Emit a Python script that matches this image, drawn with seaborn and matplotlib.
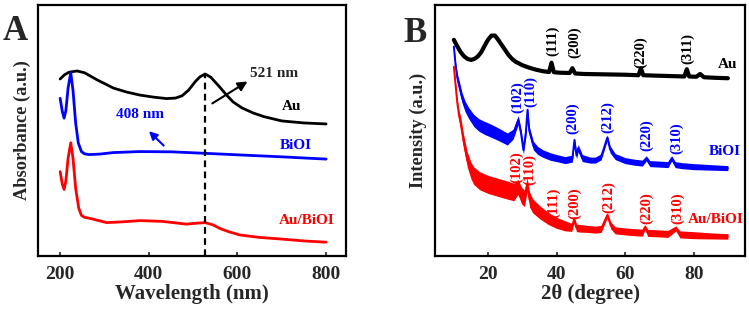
import matplotlib
matplotlib.use("Agg")
import matplotlib.pyplot as plt
import numpy as np
import pandas as pd
import seaborn as sns

sns.set_theme(style="ticks")
plt.rcParams['font.family'] = ['Liberation Serif', 'DejaVu Serif']
plt.rcParams['font.weight'] = 'bold'
plt.rcParams['axes.labelweight'] = 'bold'

# ---- panel A: UV-vis absorbance (arbitrary offset units) ----
uv_au_x = [200, 210, 220, 238, 255, 267, 285, 300, 320, 350, 380, 410, 440, 460, 475,
           490, 505, 515, 527, 540, 560, 575, 590, 610, 635, 660, 700, 750, 800]
uv_au_y = [7.05, 7.22, 7.32, 7.37, 7.30, 7.18, 7.00, 6.87, 6.69, 6.53, 6.41, 6.33, 6.27, 6.29, 6.38,
           6.61, 6.95, 7.13, 7.25, 7.12, 6.73, 6.42, 6.14, 5.90, 5.70, 5.55, 5.38, 5.30, 5.26]
uv_bioi_x = [200, 205, 209, 213, 218, 224, 229, 235, 241, 248, 255, 265, 290, 320, 380,
             450, 527, 600, 700, 800]
uv_bioi_y = [6.28, 5.75, 5.49, 5.80, 6.70, 7.30, 6.60, 5.30, 4.50, 4.16, 4.07, 4.04, 4.06, 4.12, 4.16,
             4.15, 4.09, 4.03, 3.95, 3.86]
uv_aub_x = [200, 205, 209, 213, 218, 224, 229, 235, 242, 248, 255, 267, 285, 305, 340,
            380, 430, 485, 510, 527, 545, 560, 580, 605, 650, 703, 750, 800]
uv_aub_y = [3.36, 2.85, 2.65, 3.00, 3.90, 4.51, 3.90, 2.70, 1.90, 1.62, 1.54, 1.50, 1.42, 1.33, 1.36,
            1.41, 1.38, 1.27, 1.31, 1.33, 1.24, 1.10, 0.97, 0.84, 0.74, 0.67, 0.60, 0.55]
uv_peak = 527

# ---- panel B: XRD patterns (arbitrary offset units) ----
xrd_au_x = [10, 11, 12, 13, 14, 15, 16, 17, 18, 19, 20, 21, 22, 23, 24, 25, 26, 27, 28, 30,
            32, 34, 36, 37.8, 38.5, 39.2, 41, 43.8, 44.6, 45.4, 48, 52, 56, 60, 63.9, 64.6,
            65.3, 70, 75, 77.3, 78.0, 78.7, 80.8, 81.9, 83, 86, 90]
xrd_au_y = [8.61, 8.35, 8.12, 7.95, 7.85, 7.81, 7.85, 7.95, 8.12, 8.38, 8.62, 8.78, 8.78, 8.60,
            8.40, 8.20, 8.00, 7.85, 7.74, 7.60, 7.50, 7.42, 7.36, 7.33, 7.70, 7.32, 7.30, 7.29,
            7.48, 7.27, 7.25, 7.24, 7.23, 7.22, 7.20, 7.48, 7.20, 7.18, 7.16, 7.15, 7.44, 7.15,
            7.14, 7.25, 7.12, 7.10, 7.08]

xrd_bioi_x = [10, 10.5, 11, 11.7, 12.4, 13.3, 14.3, 15.8, 17.3, 19, 20.7, 23, 25.6, 27.3, 28.8,
              29.6, 30.3, 31.0, 31.5, 32.0, 33.2, 34.5, 36, 38.2, 40, 42.5, 44.6, 45.2, 45.8,
              46.3, 47.5, 49.8, 51.3, 53, 54.8, 55.6, 57.1, 60, 62.5, 65, 66.2, 67.2, 70, 72.5,
              73.6, 74.6, 76.5, 80, 85, 90]
xrd_bioi_y = [8.34, 7.60, 7.10, 6.70, 6.30, 5.95, 5.70, 5.40, 5.22, 5.10, 5.00, 4.85, 4.66, 4.85,
              5.42, 4.90, 4.22, 4.90, 5.82, 5.00, 4.40, 4.20, 4.08, 3.96, 3.90, 3.82, 3.88, 4.62,
              4.00, 4.30, 3.90, 3.82, 3.82, 3.95, 4.72, 4.25, 3.96, 3.80, 3.74, 3.70, 3.89, 3.68,
              3.66, 3.64, 3.89, 3.64, 3.60, 3.56, 3.53, 3.50]
# half thickness of the noise band
xrd_bioi_n = [0.08, 0.14, 0.17, 0.20, 0.20, 0.21, 0.22, 0.24, 0.25, 0.26, 0.26, 0.25, 0.24, 0.20,
              0.17, 0.17, 0.17, 0.17, 0.14, 0.17, 0.17, 0.16, 0.15, 0.15, 0.14, 0.14, 0.14, 0.10,
              0.14, 0.14, 0.14, 0.12, 0.12, 0.12, 0.10, 0.14, 0.12, 0.12, 0.12, 0.12, 0.10, 0.12,
              0.12, 0.12, 0.10, 0.12, 0.12, 0.12, 0.11, 0.10]

xrd_aub_x = [10, 10.5, 11, 11.5, 12, 12.8, 13.9, 15, 15.8, 17.5, 20, 22.5, 25, 27.5, 28.7,
             29.8, 30.6, 31.4, 32.1, 33, 35, 37.5, 40, 42.5, 44.4, 45.1, 45.8, 47, 49, 51.3,
             53, 54.8, 55.8, 57.1, 60, 62.5, 65, 65.8, 66.6, 70, 72.5, 74.8, 76, 80, 85, 90]
xrd_aub_y = [7.54, 6.80, 6.10, 5.60, 5.30, 4.60, 3.85, 3.40, 3.20, 3.00, 2.85, 2.75, 2.65, 2.55,
             2.75, 2.40, 2.30, 2.85, 2.25, 2.00, 1.75, 1.50, 1.32, 1.20, 1.14, 1.45, 1.12, 1.10,
             1.08, 1.05, 1.08, 1.63, 1.22, 1.02, 0.98, 0.95, 0.93, 1.15, 0.92, 0.90, 0.88, 1.10,
             0.86, 0.83, 0.80, 0.78]
xrd_aub_n = [0.08, 0.14, 0.17, 0.20, 0.24, 0.27, 0.30, 0.33, 0.35, 0.36, 0.36, 0.36, 0.36, 0.35,
             0.30, 0.33, 0.33, 0.27, 0.30, 0.28, 0.26, 0.24, 0.22, 0.20, 0.16, 0.14, 0.15, 0.15,
             0.14, 0.14, 0.14, 0.10, 0.14, 0.14, 0.14, 0.14, 0.14, 0.10, 0.14, 0.14, 0.14, 0.10,
             0.14, 0.14, 0.12, 0.11]

# reflection labels: (text, 2theta, height)
hkl_au = [("(111)", 38.8, 8.57), ("(200)", 45.4, 8.51), ("(220)", 64.6, 8.11), ("(311)", 78.2, 8.27)]
hkl_bioi = [("(102)", 28.5, 6.31), ("(110)", 32.3, 6.57), ("(200)", 44.7, 5.49), ("(212)", 54.9, 5.55),
            ("(220)", 66.3, 4.82), ("(310)", 75.1, 4.69)]
hkl_aub = [("(102)", 28.3, 3.56), ("(110)", 32.0, 3.43), ("(111)", 39.1, 2.13), ("(200)", 45.4, 2.10),
           ("(212)", 55.2, 2.33), ("(220)", 66.3, 1.90), ("(310)", 75.3, 1.90)]

samples = ["Au", "BiOI", "Au/BiOI"]
colors = {"Au": "black", "BiOI": "#0000ff", "Au/BiOI": "#ff0000"}

uv = pd.concat([
    pd.DataFrame({"x": uv_au_x, "y": uv_au_y, "s": "Au"}),
    pd.DataFrame({"x": uv_bioi_x, "y": uv_bioi_y, "s": "BiOI"}),
    pd.DataFrame({"x": uv_aub_x, "y": uv_aub_y, "s": "Au/BiOI"}),
])


def band_frame(x, y, n, name):
    # two observations per angle: lower and upper edge of the noisy trace
    x = np.asarray(x, float)
    y = np.asarray(y, float)
    n = np.asarray(n, float)
    return pd.DataFrame({"x": np.concatenate([x, x]),
                         "y": np.concatenate([y - n, y + n]),
                         "s": name})


xrd_noisy = pd.concat([band_frame(xrd_bioi_x, xrd_bioi_y, xrd_bioi_n, "BiOI"),
                       band_frame(xrd_aub_x, xrd_aub_y, xrd_aub_n, "Au/BiOI")])
xrd_au = pd.DataFrame({"x": xrd_au_x, "y": xrd_au_y, "s": "Au"})

fig = plt.figure(figsize=(7.49, 3.09), dpi=100)
axA = fig.add_axes([0.0507, 0.1715, 0.4113, 0.8125])
axB = fig.add_axes([0.5808, 0.1715, 0.4139, 0.8125])

sns.lineplot(data=uv, x="x", y="y", hue="s", palette=colors, hue_order=samples,
             sort=False, estimator=None, lw=2.0, legend=False, ax=axA)
sns.lineplot(data=xrd_noisy, x="x", y="y", hue="s", palette=colors, hue_order=samples,
             estimator="mean", errorbar=("pi", 100), err_kws={"alpha": 1, "lw": 0},
             lw=1.4, legend=False, ax=axB)
sns.lineplot(data=xrd_au, x="x", y="y", color="black", sort=False, estimator=None,
             lw=3.0, legend=False, ax=axB)

for ax in (axA, axB):
    ax.set_ylim(0, 10)
    ax.set_yticks([])
    for sp in ax.spines.values():
        sp.set_linewidth(1.6)
        sp.set_color("black")
        sp.set_visible(True)
    ax.tick_params(axis="x", direction="in", length=3, width=1.2, pad=7, labelsize=14)
    for lab in ax.get_xticklabels():
        lab.set_fontweight("bold")

axA.set_xlim(150, 845)
axA.set_xticks([200, 400, 600, 800])
axA.set_xlabel("Wavelength (nm)", fontsize=15, fontweight="bold", labelpad=1)
axA.set_ylabel("Absorbance (a.u.)", fontsize=13.2, fontweight="bold", labelpad=5)
axA.plot([uv_peak, uv_peak], [0, 7.25], ls=(0, (3, 2)), color="black", lw=1.6)
axA.text(628, 7.25, "521 nm", fontsize=11, fontweight="bold", va="center", ha="left")
axA.text(723, 5.94, "Au", fontsize=11, fontweight="bold", color=colors["Au"], ha="center", va="center")
axA.text(732, 4.42, "BiOI", fontsize=11, fontweight="bold", color=colors["BiOI"], ha="center", va="center")
axA.text(757, 1.43, "Au/BiOI", fontsize=11, fontweight="bold", color=colors["Au/BiOI"], ha="center", va="center")
axA.text(380, 5.62, "408 nm", fontsize=11, fontweight="bold", color=colors["BiOI"], ha="center", va="center")
axA.annotate("", xy=(628, 7.01), xytext=(538, 6.02),
             arrowprops=dict(arrowstyle="-|>", color="black", lw=1.5, mutation_scale=14))
axA.annotate("", xy=(396, 5.05), xytext=(438, 4.32),
             arrowprops=dict(arrowstyle="-|>", color=colors["BiOI"], lw=1.5, mutation_scale=12))

axB.set_xlim(4.5, 95)
axB.set_xticks([20, 40, 60, 80])
axB.set_xlabel("2θ (degree)", fontsize=15, fontweight="bold", labelpad=1)
axB.set_ylabel("Intensity (a.u.)", fontsize=13.2, fontweight="bold", labelpad=6)
for name, labels in (("Au", hkl_au), ("BiOI", hkl_bioi), ("Au/BiOI", hkl_aub)):
    for t, x, y in labels:
        axB.text(x, y, t, rotation=90, fontsize=10.5, fontweight="bold", color=colors[name],
                 ha="center", va="center")
axB.text(90, 7.61, "Au", fontsize=11, fontweight="bold", color=colors["Au"], ha="center", va="center")
axB.text(89.2, 4.16, "BiOI", fontsize=11, fontweight="bold", color=colors["BiOI"], ha="center", va="center")
axB.text(86.3, 1.45, "Au/BiOI", fontsize=11, fontweight="bold", color=colors["Au/BiOI"], ha="center", va="center")

fig.text(0.004, 0.87, "A", fontsize=25, fontweight="bold", ha="left", va="baseline")
fig.text(0.538, 0.865, "B", fontsize=25, fontweight="bold", ha="left", va="baseline")

fig.savefig("out.png", dpi=100)
